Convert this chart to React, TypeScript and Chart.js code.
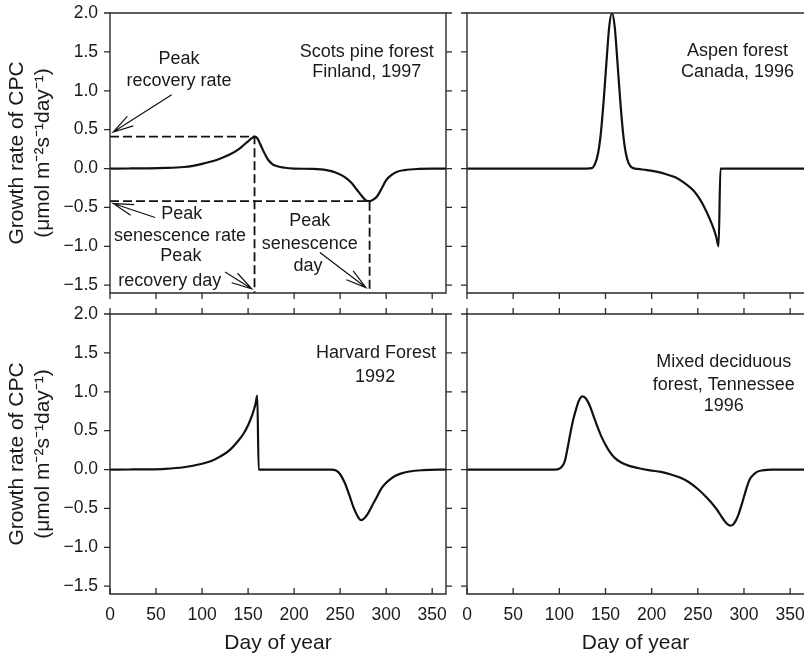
import React, { useEffect, useRef } from 'react';
import { Chart, registerables } from 'chart.js';

Chart.register(...registerables);

const FONT = "'Liberation Sans', Arial, Helvetica, sans-serif";
const TEXT_COLOR = '#1a1a1a';
const AXIS_COLOR = '#2a2a2a';
Chart.defaults.font.family = FONT;
Chart.defaults.color = TEXT_COLOR;

// ---- axes ----
const X_MIN = 0;
const X_MAX = 365;
const Y_MIN = -1.6;
const Y_MAX = 2.0;
const X_TICKS = [0, 50, 100, 150, 200, 250, 300, 350];
const Y_TICKS = [-1.5, -1.0, -0.5, 0.0, 0.5, 1.0, 1.5, 2.0];
const X_TITLE = 'Day of year';
const Y_TITLE = ['Growth rate of CPC', '(\u03bcmol m\u207b\u00b2s\u207b\u00b9day\u207b\u00b9)'];

// ---- Scots pine forest, Finland 1997 ----
const PINE_DAY = [0, 20, 40, 60, 80, 90, 100, 110, 120, 130, 140, 145, 150, 154, 157, 160, 163, 166, 169, 172, 176, 180, 190, 200, 220, 235, 245, 255, 262, 268, 274, 278, 282, 286, 290, 295, 300, 306, 312, 320, 335, 350, 365];
const PINE_RATE = [0, 0.001, 0.003, 0.008, 0.02, 0.035, 0.06, 0.09, 0.13, 0.18, 0.25, 0.3, 0.35, 0.39, 0.41, 0.39, 0.32, 0.24, 0.17, 0.11, 0.06, 0.035, 0.01, 0.0, -0.005, -0.02, -0.05, -0.11, -0.18, -0.27, -0.36, -0.41, -0.42, -0.4, -0.36, -0.26, -0.15, -0.08, -0.04, -0.02, -0.005, 0, 0];
const PEAK_RECOVERY_DAY = 157;
const PEAK_RECOVERY_RATE = 0.41;
const PEAK_SENESCENCE_DAY = 282;
const PEAK_SENESCENCE_RATE = -0.42;

// ---- Aspen forest, Canada 1996 ----
const ASPEN_DAY = [0, 100, 130, 135, 139, 142, 145, 148, 151, 154, 157, 160, 163, 166, 169, 172, 175, 179, 185, 195, 205, 215, 225, 235, 245, 252, 258, 263, 267, 270, 272.5, 274.5, 290, 365];
const ASPEN_RATE = [0, 0, 0, 0.005, 0.07, 0.2, 0.46, 0.87, 1.36, 1.82, 2.0, 1.82, 1.36, 0.87, 0.46, 0.2, 0.07, 0.01, -0.005, -0.02, -0.04, -0.07, -0.11, -0.18, -0.28, -0.39, -0.52, -0.65, -0.77, -0.88, -1.0, 0, 0, 0];

// ---- Harvard Forest 1992 ----
const HARV_DAY = [0, 20, 40, 60, 80, 100, 110, 120, 130, 140, 145, 150, 155, 158, 160, 161.5, 200, 240, 245, 250, 255, 260, 265, 270, 273, 276, 280, 285, 290, 295, 300, 305, 310, 315, 325, 340, 365];
const HARV_RATE = [0, 0.001, 0.003, 0.01, 0.03, 0.075, 0.11, 0.17, 0.25, 0.38, 0.46, 0.57, 0.72, 0.84, 0.95, 0, 0, 0, -0.01, -0.06, -0.17, -0.33, -0.5, -0.62, -0.65, -0.63, -0.57, -0.46, -0.35, -0.24, -0.17, -0.12, -0.08, -0.055, -0.025, -0.008, 0];

// ---- Mixed deciduous forest, Tennessee 1996 ----
const TENN_DAY = [0, 95, 100, 103, 106, 109, 112, 115, 118, 121, 125, 129, 133, 137, 141, 145, 150, 155, 160, 167, 175, 185, 198, 210, 220, 230, 240, 250, 258, 265, 271, 276, 281, 285, 288, 291, 294, 297, 300, 303, 306, 310, 314, 320, 330, 365];
const TENN_RATE = [0, 0, 0.01, 0.04, 0.11, 0.28, 0.47, 0.64, 0.77, 0.88, 0.94, 0.91, 0.82, 0.69, 0.56, 0.44, 0.32, 0.22, 0.15, 0.09, 0.05, 0.02, -0.01, -0.03, -0.06, -0.1, -0.16, -0.25, -0.34, -0.43, -0.52, -0.61, -0.69, -0.72, -0.71, -0.66, -0.58, -0.47, -0.35, -0.23, -0.13, -0.07, -0.03, -0.01, 0, 0];

// ---- annotations (text, day, rate) ----
const PINE_TEXTS: [string, number, number][] = [
  ['Scots pine forest', 279, 1.5],
  ['Finland, 1997', 279, 1.245],
  ['Peak', 75, 1.405],
  ['recovery rate', 75, 1.12],
  ['Peak', 78, -0.59],
  ['senescence rate', 76, -0.868],
  ['Peak', 77, -1.124],
  ['recovery day', 65, -1.445],
  ['Peak', 217, -0.676],
  ['senescence', 217, -0.974],
  ['day', 215, -1.253],
];
const PINE_ARROWS: [number, number, number, number][] = [
  [67, 0.95, 3.5, 0.47],
  [49, -0.63, 3.5, -0.45],
  [125, -1.33, 154, -1.545],
  [228, -1.08, 278, -1.53],
];
const ASPEN_TEXTS: [string, number, number][] = [
  ['Aspen forest', 293, 1.515],
  ['Canada, 1996', 293, 1.237],
];
const HARV_TEXTS: [string, number, number][] = [
  ['Harvard Forest', 289, 1.5],
  ['1992', 288, 1.196],
];
const TENN_TEXTS: [string, number, number][] = [
  ['Mixed deciduous', 278, 1.388],
  ['forest, Tennessee', 278, 1.09],
  ['1996', 278, 0.812],
];

type Sides = { top: number; bottom: number; left: number; right: number };
type PanelSpec = {
  left: number; top: number; w: number; h: number;
  padTop: number; padRight: number; xHeight: number; yWidth: number;
  showX: boolean; showY: boolean;
  days: number[]; rates: number[];
  dashed: boolean;
  frame: Sides; ticks: Sides;
  texts: [string, number, number][];
  arrows: [number, number, number, number][];
};

function decorPlugin(spec: PanelSpec) {
  return {
    id: 'decor',
    afterDatasetsDraw(chart: any) {
      const { ctx, chartArea: a, scales } = chart;
      const xs = scales.x;
      const ys = scales.y;
      ctx.save();
      ctx.strokeStyle = AXIS_COLOR;
      ctx.lineWidth = 1.4;
      ctx.lineCap = 'square';
      ctx.beginPath();
      if (spec.frame.top) { ctx.moveTo(a.left, a.top); ctx.lineTo(a.right, a.top); }
      if (spec.frame.bottom) { ctx.moveTo(a.left, a.bottom); ctx.lineTo(a.right, a.bottom); }
      if (spec.frame.left) { ctx.moveTo(a.left, a.top); ctx.lineTo(a.left, a.bottom); }
      if (spec.frame.right) { ctx.moveTo(a.right, a.top); ctx.lineTo(a.right, a.bottom); }
      ctx.stroke();
      const len = 6;
      ctx.lineCap = 'butt';
      ctx.lineWidth = 1.3;
      ctx.beginPath();
      for (const v of X_TICKS) {
        const px = xs.getPixelForValue(v);
        if (spec.ticks.bottom) { ctx.moveTo(px, a.bottom); ctx.lineTo(px, a.bottom + spec.ticks.bottom * len); }
        if (spec.ticks.top) { ctx.moveTo(px, a.top); ctx.lineTo(px, a.top - spec.ticks.top * len); }
      }
      for (const v of Y_TICKS) {
        const py = ys.getPixelForValue(v);
        if (spec.ticks.left) { ctx.moveTo(a.left, py); ctx.lineTo(a.left - spec.ticks.left * len, py); }
        if (spec.ticks.right) { ctx.moveTo(a.right, py); ctx.lineTo(a.right + spec.ticks.right * len, py); }
      }
      ctx.stroke();

      ctx.fillStyle = TEXT_COLOR;
      ctx.font = `18px ${FONT}`;
      ctx.textAlign = 'center';
      ctx.textBaseline = 'middle';
      for (const [t, d, r] of spec.texts) {
        ctx.fillText(t, xs.getPixelForValue(d), ys.getPixelForValue(r));
      }

      ctx.strokeStyle = '#111';
      ctx.lineWidth = 1.2;
      for (const [d0, r0, d1, r1] of spec.arrows) {
        const x0 = xs.getPixelForValue(d0), y0 = ys.getPixelForValue(r0);
        const x1 = xs.getPixelForValue(d1), y1 = ys.getPixelForValue(r1);
        const ang = Math.atan2(y0 - y1, x0 - x1);
        const bl = 21, spread = 0.27;
        ctx.beginPath();
        ctx.moveTo(x0, y0); ctx.lineTo(x1, y1);
        ctx.moveTo(x1 + bl * Math.cos(ang + spread), y1 + bl * Math.sin(ang + spread));
        ctx.lineTo(x1, y1);
        ctx.lineTo(x1 + bl * Math.cos(ang - spread), y1 + bl * Math.sin(ang - spread));
        ctx.stroke();
      }
      ctx.restore();
    },
  };
}

function fmtY(v: number) {
  const s = Math.abs(v).toFixed(1);
  return v < 0 ? '\u2212' + s : s;
}

function buildConfig(spec: PanelSpec): any {
  const datasets: any[] = [
    {
      data: spec.days.map((d, i) => ({ x: d, y: spec.rates[i] })),
      borderColor: '#111',
      borderWidth: 2.2,
      pointRadius: 0,
      cubicInterpolationMode: 'monotone',
      fill: false,
    },
  ];
  if (spec.dashed) {
    datasets.push({
      data: [
        { x: X_MIN, y: PEAK_RECOVERY_RATE },
        { x: PEAK_RECOVERY_DAY, y: PEAK_RECOVERY_RATE },
        { x: PEAK_RECOVERY_DAY, y: Y_MIN },
      ],
      borderColor: '#111', borderWidth: 1.8, borderDash: [9, 4], pointRadius: 0, tension: 0, fill: false,
    });
    datasets.push({
      data: [
        { x: X_MIN, y: PEAK_SENESCENCE_RATE },
        { x: PEAK_SENESCENCE_DAY, y: PEAK_SENESCENCE_RATE },
        { x: PEAK_SENESCENCE_DAY, y: Y_MIN },
      ],
      borderColor: '#111', borderWidth: 1.8, borderDash: [9, 4], pointRadius: 0, tension: 0, fill: false,
    });
  }
  return {
    type: 'line',
    data: { datasets },
    options: {
      animation: false,
      responsive: false,
      maintainAspectRatio: false,
      devicePixelRatio: 1,
      layout: { padding: { top: spec.padTop, right: spec.padRight, left: 0, bottom: 0 } },
      plugins: { legend: { display: false }, tooltip: { enabled: false }, title: { display: false } },
      scales: {
        x: {
          type: 'linear',
          position: 'bottom',
          min: X_MIN,
          max: X_MAX,
          grid: { display: false, drawTicks: false },
          border: { display: false },
          ticks: {
            display: spec.showX,
            padding: 11,
            font: { size: 17.5 },
            color: TEXT_COLOR,
            maxRotation: 0,
            autoSkip: false,
            callback: (v: number) => String(v),
          },
          afterBuildTicks: (s: any) => { s.ticks = X_TICKS.map((v) => ({ value: v })); },
          afterFit: (s: any) => { s.height = spec.xHeight; s.paddingLeft = 0; s.paddingRight = 0; },
          title: {
            display: spec.showX,
            text: X_TITLE,
            font: { size: 21 },
            color: TEXT_COLOR,
            padding: { top: 0, bottom: 4 },
          },
        },
        y: {
          type: 'linear',
          position: 'left',
          min: Y_MIN,
          max: Y_MAX,
          grid: { display: false, drawTicks: false },
          border: { display: false },
          ticks: {
            display: spec.showY,
            padding: 12,
            font: { size: 17.5 },
            color: TEXT_COLOR,
            autoSkip: false,
            callback: (v: number) => fmtY(v),
          },
          afterBuildTicks: (s: any) => { s.ticks = Y_TICKS.map((v) => ({ value: v })); },
          afterFit: (s: any) => { s.width = spec.yWidth; s.paddingTop = 0; s.paddingBottom = 0; },
          title: {
            display: spec.showY,
            text: Y_TITLE,
            font: { size: 21, lineHeight: 1.25 },
            color: TEXT_COLOR,
            padding: { top: 4, bottom: 0 },
          },
        },
      },
    },
    plugins: [decorPlugin(spec)],
  };
}

const PANELS: PanelSpec[] = [
  {
    left: 0, top: 0, w: 456, h: 303, padTop: 13, padRight: 10, xHeight: 10, yWidth: 110,
    showX: false, showY: true, days: PINE_DAY, rates: PINE_RATE, dashed: true,
    frame: { top: 1, bottom: 1, left: 1, right: 1 }, ticks: { top: 0, bottom: 1, left: 1, right: 1 },
    texts: PINE_TEXTS, arrows: PINE_ARROWS,
  },
  {
    left: 456, top: 0, w: 348, h: 303, padTop: 13, padRight: 0, xHeight: 10, yWidth: 11,
    showX: false, showY: false, days: ASPEN_DAY, rates: ASPEN_RATE, dashed: false,
    frame: { top: 1, bottom: 1, left: 1, right: 0 }, ticks: { top: 0, bottom: 1, left: 1, right: 0 },
    texts: ASPEN_TEXTS, arrows: [],
  },
  {
    left: 0, top: 303, w: 456, h: 357, padTop: 11, padRight: 10, xHeight: 66, yWidth: 110,
    showX: true, showY: true, days: HARV_DAY, rates: HARV_RATE, dashed: false,
    frame: { top: 1, bottom: 1, left: 1, right: 1 }, ticks: { top: 1, bottom: -1, left: 1, right: 1 },
    texts: HARV_TEXTS, arrows: [],
  },
  {
    left: 456, top: 303, w: 348, h: 357, padTop: 11, padRight: 0, xHeight: 66, yWidth: 11,
    showX: true, showY: false, days: TENN_DAY, rates: TENN_RATE, dashed: false,
    frame: { top: 1, bottom: 1, left: 1, right: 0 }, ticks: { top: 1, bottom: -1, left: 1, right: 0 },
    texts: TENN_TEXTS, arrows: [],
  },
];

function Panel({ spec }: { spec: PanelSpec }) {
  const ref = useRef<HTMLCanvasElement>(null);
  useEffect(() => {
    if (!ref.current) return;
    const chart = new Chart(ref.current, buildConfig(spec));
    return () => chart.destroy();
  }, [spec]);
  return (
    <canvas
      ref={ref}
      width={spec.w}
      height={spec.h}
      style={{ position: 'absolute', left: spec.left, top: spec.top, width: spec.w, height: spec.h }}
    />
  );
}

export default function App() {
  return (
    <div style={{ position: 'absolute', left: 0, top: 0, width: 804, height: 660, overflow: 'hidden', background: '#fff' }}>
      {PANELS.map((p, i) => (
        <Panel key={i} spec={p} />
      ))}
    </div>
  );
}
